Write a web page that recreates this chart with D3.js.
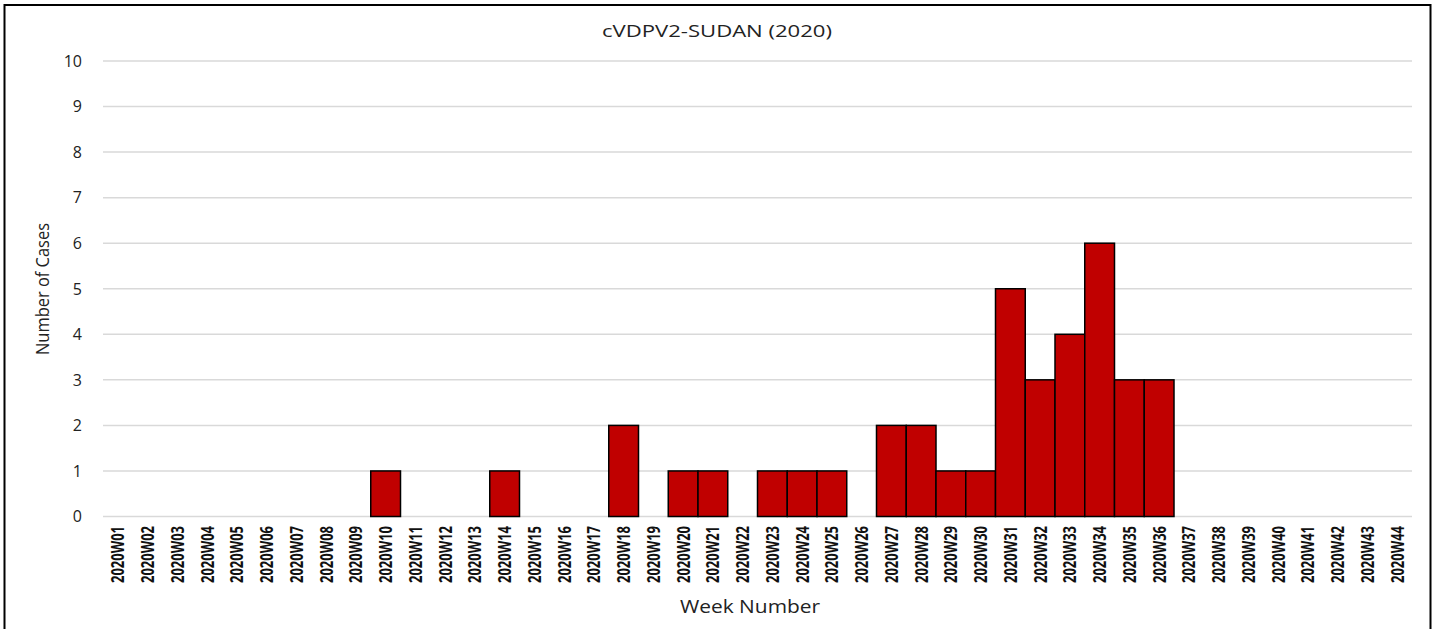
<!DOCTYPE html>
<html><head><meta charset="utf-8">
<script src="https://cdn.jsdelivr.net/npm/d3@7"></script>
<style>body{margin:0;background:#fff}svg{display:block}</style>
</head><body>
<svg id="c" width="1434" height="629"></svg>
<script>
const weeks = d3.range(1, 45).map(i => "2020W" + String(i).padStart(2, "0"));
const caseWeeks = ["2020W10","2020W14","2020W18","2020W20","2020W21","2020W23","2020W24","2020W25","2020W27","2020W28","2020W29","2020W30","2020W31","2020W32","2020W33","2020W34","2020W35","2020W36"];
const caseCounts = [1,1,2,1,1,1,1,1,2,2,1,1,5,3,4,6,3,3];
const yTicks = [0,1,2,3,4,5,6,7,8,9,10];
const title = "cVDPV2-SUDAN (2020)";
const xTitle = "Week Number";
const yTitle = "Number of Cases";

const countMap = new Map(caseWeeks.map((w, i) => [w, caseCounts[i]]));
const data = weeks.map(w => ({week: w, value: countMap.get(w) || 0}));

const svg = d3.select("#c");
const mLeft = 103, mRight = 1412, mTop = 61, mBottom = 516.5;
const x = d3.scaleBand().domain(weeks).range([mLeft, mRight]).padding(0);
const y = d3.scaleLinear().domain([0, 10]).range([mBottom, mTop]);

// border
svg.append("rect").attr("x", 4.5).attr("y", 5).attr("width", 1426).attr("height", 640)
  .attr("fill", "none").attr("stroke", "#000").attr("stroke-width", 2);

// gridlines
svg.append("g").selectAll("line").data(yTicks).join("line")
  .attr("x1", mLeft).attr("x2", mRight)
  .attr("y1", d => y(d)).attr("y2", d => y(d))
  .attr("stroke", "#d9d9d9").attr("stroke-width", 1.5);

// y tick labels
svg.append("g").selectAll("text").data(yTicks).join("text")
  .attr("x", 82).attr("y", d => y(d)).attr("dy", "0.36em")
  .attr("text-anchor", "end")
  .attr("font-family", "Open Sans").attr("font-size", 16).attr("fill", "#222")
  .text(d => d);

// bars
svg.append("g").selectAll("rect").data(data.filter(d => d.value > 0)).join("rect")
  .attr("x", d => x(d.week)).attr("width", x.bandwidth())
  .attr("y", d => y(d.value)).attr("height", d => y(0) - y(d.value))
  .attr("fill", "#C00000").attr("stroke", "#000").attr("stroke-width", 1.5);

// x labels
svg.append("g").selectAll("text").data(weeks).join("text")
  .attr("transform", d => `translate(${x(d) + x.bandwidth()/2 + 6.5},526) rotate(-90)`)
  .attr("text-anchor", "end")
  .attr("font-family", "Open Sans").attr("font-weight", "bold").attr("font-size", 17)
  .attr("textLength", 57).attr("lengthAdjust", "spacingAndGlyphs")
  .attr("fill", "#111")
  .text(d => d);

// title
svg.append("text").attr("x", 717).attr("y", 37).attr("text-anchor", "middle")
  .attr("font-family", "Open Sans").attr("font-size", 16).attr("fill", "#222")
  .attr("textLength", 230).attr("lengthAdjust", "spacingAndGlyphs")
  .text(title);

// x title
svg.append("text").attr("x", 750).attr("y", 613).attr("text-anchor", "middle")
  .attr("font-family", "Open Sans").attr("font-size", 18).attr("fill", "#222")
  .attr("textLength", 140).attr("lengthAdjust", "spacingAndGlyphs")
  .text(xTitle);

// y title
svg.append("text").attr("transform", "translate(49,289) rotate(-90)").attr("text-anchor", "middle")
  .attr("font-family", "Open Sans").attr("font-size", 18).attr("fill", "#222")
  .attr("textLength", 132).attr("lengthAdjust", "spacingAndGlyphs")
  .text(yTitle);
</script>
</body></html>
